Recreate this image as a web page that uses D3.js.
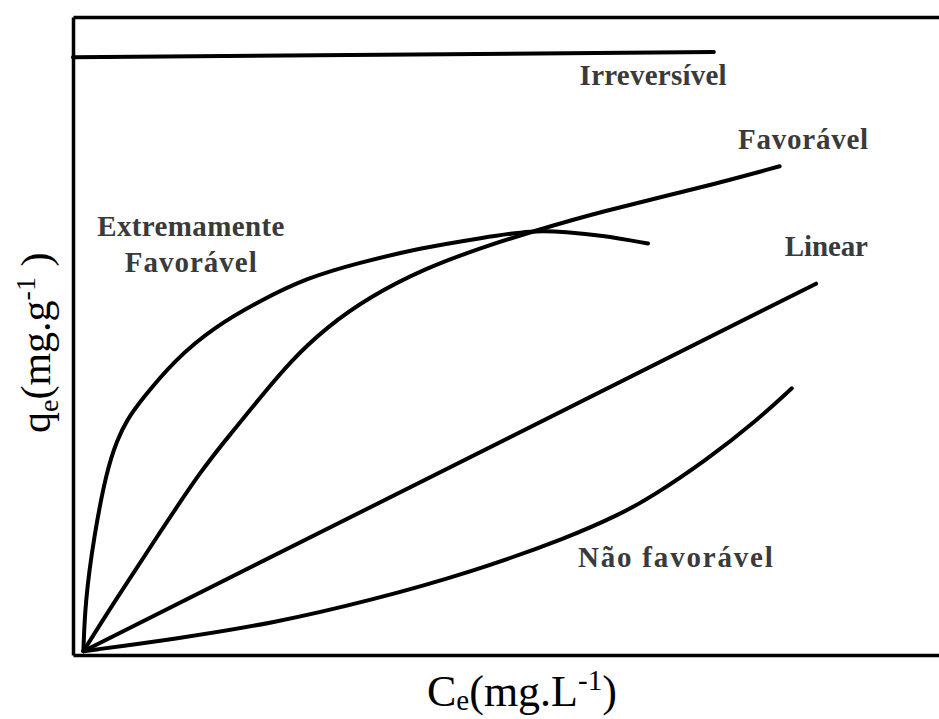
<!DOCTYPE html>
<html>
<head>
<meta charset="utf-8">
<script src="https://cdn.jsdelivr.net/npm/d3@7"></script>
<style>
  body { margin: 0; background: #fff; }
  svg { display: block; }
</style>
</head>
<body>
<script>
// isotherm curve shapes (arbitrary units, 0-100 on both axes)
var ceExtrema = [1.2, 1.4, 2.4, 3.9, 5.1, 6.2, 7.9, 11.7, 16.3, 21.7, 27.0, 32.8, 40.1, 47.3, 53.1, 57.0, 60.9, 66.4];
var qeExtrema = [0.6, 8.2, 18.5, 29.0, 33.7, 36.8, 40.0, 46.2, 51.4, 55.6, 59.1, 61.4, 63.8, 65.4, 66.6, 66.3, 65.8, 64.5];

var ceFavoravel = [1.2, 4.7, 9.7, 14.8, 18.6, 21.4, 25.2, 29.3, 34.2, 40.6, 47.3, 53.1, 60.9, 72.4, 81.6];
var qeFavoravel = [0.6, 8.2, 18.5, 29.0, 35.3, 40.0, 46.2, 51.4, 56.1, 60.6, 63.9, 66.4, 69.5, 73.2, 76.6];

var ceLinear = [1.2, 85.8];
var qeLinear = [0.6, 58.2];

var ceNaoFav = [1.2, 11.7, 23.2, 34.5, 45.8, 57.4, 63.2, 66.6, 73.2, 79.0, 83.0];
var qeNaoFav = [0.6, 2.5, 5.0, 8.6, 12.9, 18.5, 22.1, 24.6, 30.6, 36.8, 41.8];

var ceIrrev = [0, 74.0];
var qeIrrev = [93.7, 94.5];

var labelText = ['Irreversível', 'Favorável', 'Extremamente', 'Favorável', 'Linear', 'Não favorável'];
var labelCe = [58.5, 76.8, 13.6, 13.6, 82.2, 58.3];
var labelQe = [89.3, 79.3, 65.7, 60.0, 62.6, 13.8];
var labelAnchor = ['start', 'start', 'middle', 'middle', 'start', 'start'];
var labelWidth = [147, 130, 187, 132, 83, 195];

var width = 939;
var height = 719;

var svg = d3.select('body')
    .append('svg')
    .attr('width', width)
    .attr('height', height);

var x = d3.scaleLinear()
    .domain([0, 100])
    .range([73, 939]);
var y = d3.scaleLinear()
    .domain([0, 100])
    .range([655, 17]);

// frame: left, bottom and top edges (no ticks)
function frame(g) {
    g.selectAll('.tick').remove();
    g.select('.domain').attr('stroke', '#000').attr('stroke-width', 3.5);
}
svg.append('g')
    .attr('transform', 'translate(0,' + y(0) + ')')
    .call(d3.axisBottom(x).ticks(0).tickSizeOuter(0))
    .call(frame);
svg.append('g')
    .attr('transform', 'translate(0,' + y(100) + ')')
    .call(d3.axisTop(x).ticks(0).tickSizeOuter(0))
    .call(frame);
svg.append('g')
    .attr('transform', 'translate(' + x(0) + ',0)')
    .call(d3.axisLeft(y).ticks(0).tickSizeOuter(0))
    .call(frame);

var series = [
    [ceIrrev, qeIrrev],
    [ceExtrema, qeExtrema],
    [ceFavoravel, qeFavoravel],
    [ceLinear, qeLinear],
    [ceNaoFav, qeNaoFav]
];

var line = d3.line()
    .x(function (d) { return x(d[0]); })
    .y(function (d) { return y(d[1]); })
    .curve(d3.curveBasis);

svg.selectAll('path.curve')
    .data(series)
    .enter()
    .append('path')
    .attr('class', 'curve')
    .attr('d', function (s) {
        return line(d3.zip(s[0], s[1]));
    })
    .attr('fill', 'none')
    .attr('stroke', '#000')
    .attr('stroke-width', 4)
    .attr('stroke-linecap', 'round');

svg.selectAll('text.lbl')
    .data(labelText)
    .enter()
    .append('text')
    .attr('class', 'lbl')
    .attr('x', function (d, i) { return x(labelCe[i]); })
    .attr('y', function (d, i) { return y(labelQe[i]); })
    .attr('text-anchor', function (d, i) { return labelAnchor[i]; })
    .attr('textLength', function (d, i) { return labelWidth[i]; })
    .style('font-family', '"Liberation Serif", serif')
    .style('font-weight', 'bold')
    .style('font-size', '29px')
    .attr('fill', '#3a3a3a')
    .text(function (d) { return d; });

// axis titles
var xt = svg.append('text')
    .attr('x', 427)
    .attr('y', 706)
    .style('font-family', '"Liberation Serif", serif')
    .style('font-size', '44px')
    .attr('fill', '#000');
xt.append('tspan').text('C');
xt.append('tspan').attr('dy', 4).style('font-size', '29px').text('e');
xt.append('tspan').attr('dy', -4).text('(mg.L');
xt.append('tspan').attr('dy', -16).style('font-size', '29px').text('-1');
xt.append('tspan').attr('dy', 16).text(')');

var yt = svg.append('text')
    .attr('transform', 'translate(50,433) rotate(-90)')
    .style('font-family', '"Liberation Serif", serif')
    .style('font-size', '42px')
    .attr('fill', '#000');
yt.append('tspan').text('q');
yt.append('tspan').attr('dy', 8).style('font-size', '28px').text('e');
yt.append('tspan').attr('dy', -8).text('(mg.g');
yt.append('tspan').attr('dy', -15).style('font-size', '28px').text('-1');
yt.append('tspan').attr('dy', 15).text(' )');
</script>
</body>
</html>
